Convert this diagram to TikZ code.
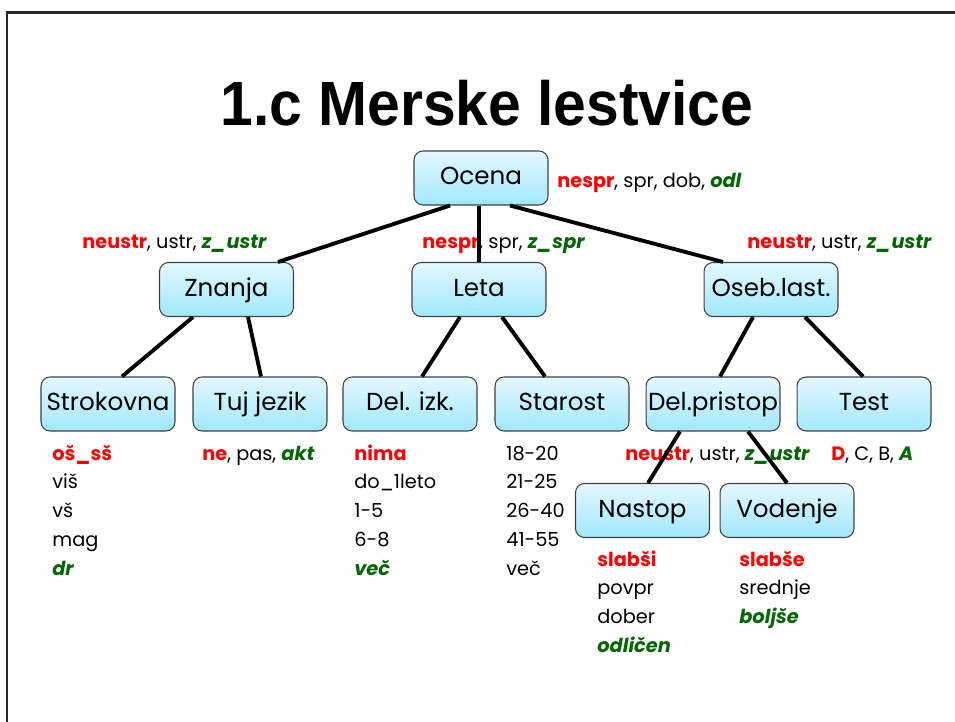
\documentclass[tikz,border=0pt]{standalone}
\usepackage{fontspec}
\setmainfont{Poppins}
\newfontfamily\titlefont{Liberation Sans}
\usepackage{xcolor}
\usetikzlibrary{positioning}

\definecolor{lowred}{RGB}{255,0,0}
\definecolor{highgreen}{RGB}{0,102,0}
\definecolor{boxtop}{RGB}{228,248,255}
\definecolor{boxbot}{RGB}{160,232,252}
\newcommand{\lowv}[1]{\textcolor{lowred}{\textbf{#1}}}
\newcommand{\highv}[1]{\textcolor{highgreen}{\textbf{\textit{#1}}}}

\tikzset{
  scalebox/.style={draw=black!75, line width=0.6pt, rounded corners=0.18cm,
    top color=boxtop, bottom color=boxbot, minimum width=2.68cm,
    minimum height=1.08cm, inner sep=0pt, text height=1.7ex, text depth=0.3ex,
    font=\fontsize{14}{17}\selectfont},
  lbl/.style={anchor=base west, inner sep=0pt, font=\fontsize{11}{14}\selectfont},
  edge/.style={line width=2.2pt}
}

\begin{document}
\begin{tikzpicture}[x=0.02cm, y=-0.02cm]
\useasboundingbox (0,0) rectangle (955,722);
\draw[line width=1.2pt, black!85] (7,722) -- (7,12.5) -- (955,12.5);
\node (title) at (487,103) {\titlefont\bfseries\fontsize{35.6}{40}\selectfont\scalebox{0.94}[1]{1.c Merske lestvice}};

% level 0 and 1
\node[scalebox] (ocena) at (481,178) {Ocena};
\node[scalebox] (znanja) at (226.5,289.5) {Znanja};
\node[scalebox] (leta) at (479,289.5) {Leta};
\node[scalebox] (oseb) at (771,289.5) {Oseb.last.};
% level 2
\node[scalebox] (strok) at (108,404) {Strokovna};
\node[scalebox] (tuj) at (260,404) {Tuj jezik};
\node[scalebox] (izk) at (410,404) {Del. izk.};
\node[scalebox] (starost) at (562,404) {Starost};
\node[scalebox] (pristop) at (713,404) {Del.pristop};
\node[scalebox] (test) at (864,404) {Test};
% level 3
\node[scalebox] (nastop) at (642.5,510.5) {Nastop};
\node[scalebox] (vodenje) at (787,510.5) {Vodenje};

% scale labels
\node[lbl] (ocenaL) at (557,188) {\lowv{nespr}, spr, dob, \highv{odl}};
\node[lbl] (znanjaL) at (82,249) {\lowv{neustr}, ustr, \highv{z\_ustr}};
\node[lbl] (letaL) at (422,249) {\lowv{nespr}, spr, \highv{z\_spr}};
\node[lbl] (osebL) at (747,249) {\lowv{neustr}, ustr, \highv{z\_ustr}};
\node[lbl] (pristopL) at (625,460) {\lowv{neustr}, ustr, \highv{z\_ustr}};
\node[lbl] (tujL) at (202,460) {\lowv{ne}, pas, \highv{akt}};
\node[lbl] (testL) at (831,460) {\lowv{D}, C, B, \highv{A}};
\foreach \t [count=\i from 0] in {\lowv{oš\_sš}, viš, vš, mag, \highv{dr}}
  \node[lbl] (strok-\i) at (52,460+28.75*\i) {\t};
\foreach \t [count=\i from 0] in {\lowv{nima}, do\_1leto, 1-5, 6-8, \highv{več}}
  \node[lbl] (izk-\i) at (354,460+28.75*\i) {\t};
\foreach \t [count=\i from 0] in {18-20, 21-25, 26-40, 41-55, več}
  \node[lbl] (starost-\i) at (506,460+28.75*\i) {\t};
\foreach \t [count=\i from 0] in {\lowv{slabši}, povpr, dober, \highv{odličen}}
  \node[lbl] (nastop-\i) at (597,566+28.75*\i) {\t};
\foreach \t [count=\i from 0] in {\lowv{slabše}, srednje, \highv{boljše}}
  \node[lbl] (vodenje-\i) at (739,566+28.75*\i) {\t};

% connectors
\draw[edge] ([xshift=-0.62cm]ocena.south) -- ([xshift=1.03cm]znanja.north);
\draw[edge] (ocena.south -| leta.north) -- (leta.north);
\draw[edge] ([xshift=0.58cm]ocena.south) -- ([xshift=-0.96cm]oseb.north);
\draw[edge] ([xshift=-0.67cm]znanja.south) -- ([xshift=0.28cm]strok.north);
\draw[edge] ([xshift=0.43cm]znanja.south) -- ([xshift=0.02cm]tuj.north);
\draw[edge] ([xshift=-0.38cm]leta.south) -- ([xshift=0.24cm]izk.north);
\draw[edge] ([xshift=0.46cm]leta.south) -- ([xshift=-0.34cm]starost.north);
\draw[edge] ([xshift=-0.36cm]oseb.south) -- ([xshift=0.14cm]pristop.north);
\draw[edge] ([xshift=0.68cm]oseb.south) -- ([xshift=-0.02cm]test.north);
\draw[edge] ([xshift=-0.66cm]pristop.south) -- ([xshift=0.11cm]nastop.north);
\draw[edge] ([xshift=0.70cm]pristop.south) -- ([xshift=0cm]vodenje.north);
\end{tikzpicture}
\end{document}
